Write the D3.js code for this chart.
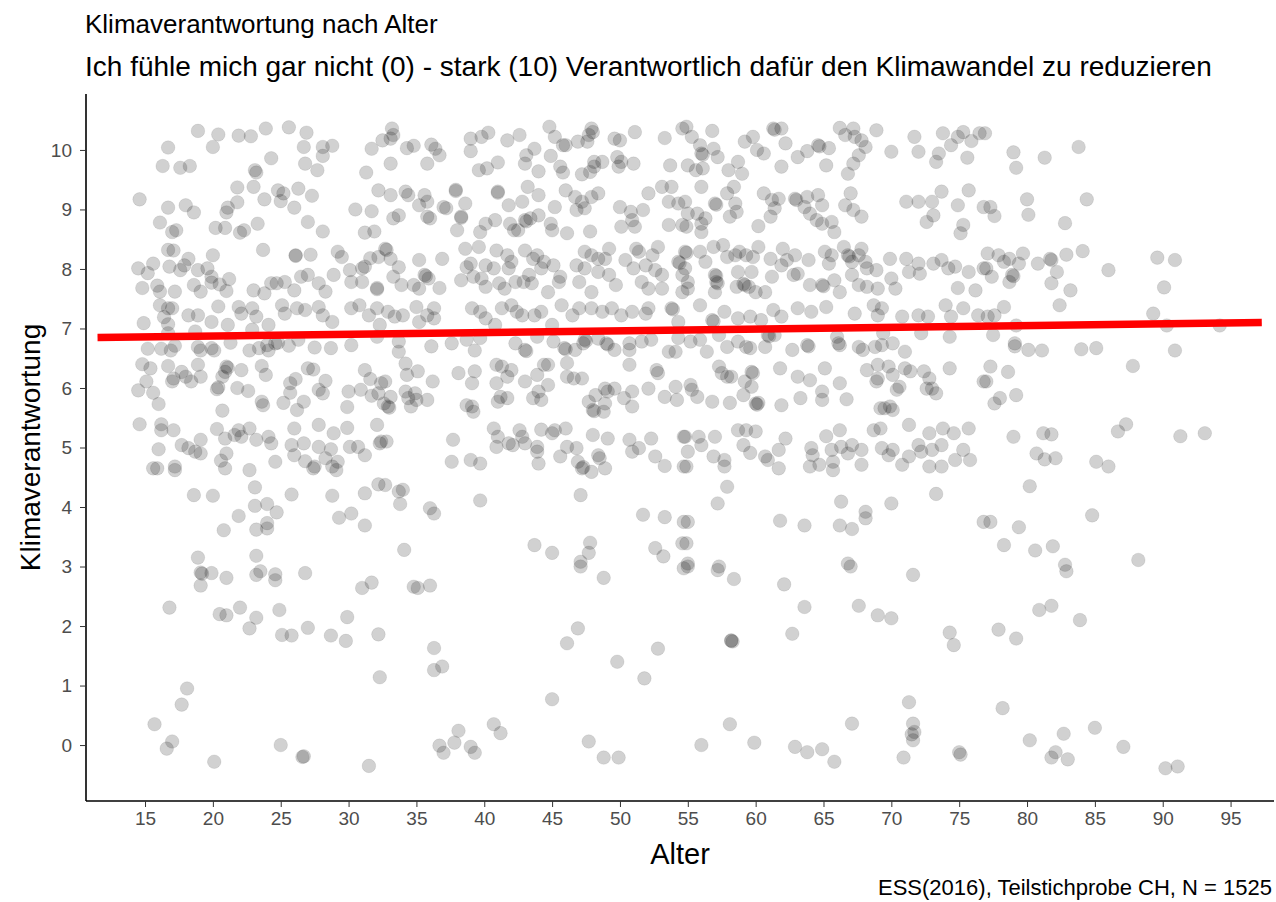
<!DOCTYPE html>
<html>
<head>
<meta charset="utf-8">
<script src="https://cdn.jsdelivr.net/npm/d3@7"></script>
<style>
  body { margin: 0; background: #fff; }
  svg { display: block; font-family: "Liberation Sans", Arial, sans-serif; }
  .tick text { fill: #4d4d4d; font-size: 19px; }
  .tick line { stroke: #333; }
  .domain { stroke: #000; stroke-width: 1.6px; }
</style>
</head>
<body>
<svg id="chart" width="1276" height="902"></svg>
<script>
// ---- data ([Alter, Klimaverantwortung], jittered) ----
var punkte = [
// oben links
[18.9,10.32],[20.4,10.26],[20.0,10.05],[21.9,10.24],[22.8,10.23],[23.9,10.36],[25.6,10.38],[26.9,10.29],[26.7,10.05],[28.1,10.05],
[28.8,10.07],[28.1,9.90],[16.7,10.04],[16.3,9.73],[17.6,9.70],[18.3,9.73],[23.1,9.66],[23.2,9.62],[24.3,9.86],[26.8,9.77],
[27.7,9.66],[31.7,10.02],[31.3,9.62],[32.5,10.16],[14.6,9.17],[16.7,9.03],[18.0,9.07],[18.6,8.95],[21.8,9.37],[23.0,9.38],
[24.8,9.32],[25.2,9.27],[25.0,9.14],[26.3,9.35],[27.3,9.23],[26.0,9.03],[21.8,9.12],[21.1,9.03],[21.0,8.95],[20.9,8.69],
[20.2,8.69],[22.0,8.61],[22.3,8.65],[23.3,8.76],[23.8,9.17],[27.0,8.79],[28.1,8.63],[30.5,9.0],[31.7,8.97],[31.2,8.61],
[31.9,8.63],[32.2,9.32],[16.1,8.78],[17.0,8.62],[17.3,8.65],[23.7,8.32],[26.1,8.23],[26.1,8.22],[27.2,8.24],[16.7,8.32],
[17.1,8.31],[20.0,8.23],[18.2,8.17],[14.5,8.01],[15.2,7.93],[15.6,8.09],[16.8,8.04],[17.6,7.98],[17.9,8.06],[18.9,7.98],
[19.6,8.01],[19.9,7.87],[21.2,7.83],[14.8,7.68],[15.9,7.72],[16.1,7.62],[17.2,7.62],[18.6,7.73],[19.1,7.62],[19.9,7.77],
[20.5,7.74],[21.0,7.63],[23.0,7.64],[23.8,7.59],[24.3,7.76],[24.7,7.76],[25.3,7.78],[26.0,7.64],[26.5,7.87],[27.0,7.9],
[27.8,7.76],[28.3,7.62],[28.9,7.9],[29.2,8.29],[29.5,8.2],[30.1,7.98],[31.0,8.01],[31.2,8.04],[31.6,8.18],[32.2,8.2],
[32.1,7.68],[32.1,7.66],[31.0,7.78],[30.2,7.78],[16.1,7.39],[16.7,7.34],[17.0,7.34],[14.9,7.09],[16.4,7.19],[16.7,7.07],
[18.2,7.22],[18.9,7.22],[19.9,7.11],[20.4,7.37],[21.1,7.06],[21.9,7.36],[22.1,7.25],[22.9,7.34],[23.2,7.2],[24.1,7.06],
[25.1,7.39],[25.3,7.25],[26.2,7.34],[26.8,7.31],[27.8,7.36],[28.1,7.22],[28.8,7.11],[30.2,7.34],[30.8,7.39],[31.5,7.22],
[32.1,7.34],[32.3,7.06],
// oben Mitte links
[33.2,10.36],[33.3,10.25],[33.1,10.19],[34.3,10.03],[34.8,10.07],[36.1,10.09],[36.4,10.02],[36.7,9.91],[35.8,9.77],[33.1,9.77],
[39.0,10.19],[39.0,9.98],[39.8,10.22],[40.3,10.29],[41.7,10.16],[42.6,10.25],[43.7,10.02],[43.1,9.91],[43.0,9.77],[44.8,10.39],
[45.2,10.22],[46.0,10.08],[45.8,10.08],[46.9,10.14],[47.7,10.25],[47.9,10.36],[48.0,10.3],[47.6,10.14],[49.6,10.19],[50.0,10.16],
[51.1,10.3],[53.3,10.2],[54.6,10.36],[44.9,9.9],[45.6,9.72],[45.8,9.62],[48.1,9.8],[48.1,9.72],[47.8,9.63],[48.7,9.8],
[47.2,9.59],[49.8,9.88],[50.1,9.8],[51.0,9.77],[49.9,9.72],[53.7,9.74],[39.6,9.66],[40.2,9.69],[41.0,9.79],[44.0,9.64],
[33.1,9.24],[34.2,9.3],[34.4,9.24],[35.6,9.24],[35.8,9.13],[35.2,9.07],[37.0,9.04],[37.2,9.02],[37.9,9.33],[37.9,9.31],
[38.6,9.1],[38.3,8.88],[38.3,8.86],[38.0,8.65],[35.8,8.88],[36.0,8.85],[33.3,8.85],[33.7,8.9],[41.0,9.3],[41.0,9.28],
[41.8,9.07],[42.8,9.13],[43.2,9.38],[44.0,9.24],[45.2,9.04],[46.0,9.32],[46.7,9.21],[47.2,9.13],[47.9,9.21],[48.4,9.27],
[46.8,8.99],[47.4,9.02],[50.0,9.04],[50.8,8.96],[51.7,8.99],[52.1,9.27],[53.1,9.38],[53.8,9.38],[53.6,9.13],[54.3,9.1],
[50.9,8.82],[51.1,8.71],[50.1,8.71],[53.6,8.74],[54.6,8.74],[40.1,8.76],[40.8,8.82],[39.7,8.62],[41.9,8.76],[42.2,8.65],
[43.0,8.82],[43.1,8.8],[43.4,8.85],[44.0,8.9],[42.5,8.65],[44.9,8.76],[45.0,8.65],[46.1,8.6],[47.8,8.63],[32.7,8.34],
[32.8,8.32],[33.1,8.17],[33.7,8.03],[35.2,8.15],[36.9,8.17],[33.3,7.87],[33.9,7.73],[34.8,7.73],[35.6,7.9],[35.7,7.88],
[35.9,7.84],[36.7,7.68],[35.2,7.67],[38.6,8.34],[39.6,8.37],[39.0,8.09],[38.7,8.03],[38.3,7.81],[39.2,7.87],[39.8,7.84],
[40.1,8.06],[40.9,8.31],[41.7,8.23],[41.8,8.01],[42.0,8.12],[40.7,8.01],[40.1,7.7],[41.1,7.76],[41.5,7.67],[42.3,7.78],
[43.0,8.31],[43.6,8.17],[43.9,8.23],[44.4,8.12],[44.2,8.01],[45.1,8.06],[43.3,7.9],[42.9,7.78],[43.5,7.76],[45.6,7.87],
[45.5,7.78],[44.7,7.61],[46.8,8.06],[47.4,8.29],[47.9,8.23],[48.4,8.17],[48.9,8.17],[49.2,8.34],[47.4,8.01],[48.4,7.95],
[49.2,7.9],[47.9,7.61],[47.0,7.78],[49.7,7.73],[50.4,8.15],[51.2,8.34],[51.4,8.29],[52.8,8.37],[52.4,8.23],[51.0,8.01],
[51.9,8.06],[52.6,7.98],[53.1,7.9],[51.6,7.78],[52.1,7.67],[53.1,7.67],[54.3,8.12],[54.4,8.1],[54.6,7.9],[54.6,7.61],
[32.9,7.28],[33.4,7.2],[34.0,7.22],[35.0,7.36],[35.2,7.11],[35.8,7.22],[36.3,7.34],[36.3,7.17],[39.1,7.34],[39.7,7.28],
[40.1,7.17],[40.8,7.06],[41.3,7.34],[42.0,7.39],[42.4,7.28],[42.8,7.22],[43.7,7.22],[44.2,7.28],[45.0,7.06],[45.7,7.39],
[46.5,7.22],[47.0,7.34],[47.9,7.34],[48.7,7.28],[49.4,7.34],[50.1,7.22],[50.9,7.28],[51.9,7.25],[52.1,7.34],[53.8,7.34],
[53.9,7.32],[54.3,7.11],
// oben Mitte rechts
[54.9,10.39],[55.3,10.22],[55.9,10.08],[56.8,10.32],[56.0,9.94],[56.1,9.92],[56.9,10.02],[57.2,9.88],[55.0,9.74],[55.6,9.66],
[56.1,9.69],[58.0,9.66],[58.7,9.8],[59.0,9.6],[59.2,10.14],[59.8,10.22],[60.1,10.0],[60.6,9.94],[61.3,10.36],[61.4,10.34],
[61.9,10.36],[62.2,10.11],[61.9,9.72],[63.1,9.88],[63.8,9.98],[64.6,10.08],[64.7,10.06],[65.2,9.74],[65.4,10.03],[66.2,10.37],
[66.6,10.25],[67.2,10.36],[67.3,10.22],[67.8,10.16],[68.1,10.05],[67.6,9.91],[67.2,9.77],[66.8,9.6],[68.9,10.33],[70.0,9.97],
[71.7,10.22],[72.0,9.97],[73.5,9.94],[73.3,9.8],[73.8,10.28],[74.4,10.08],[74.9,10.22],[75.3,10.3],[75.9,10.15],[76.5,10.28],
[75.6,9.87],[56.0,9.38],[57.9,9.27],[58.4,9.38],[57.0,9.1],[57.1,9.08],[58.5,9.1],[58.6,8.96],[58.1,8.88],[54.8,9.13],
[55.0,8.93],[55.7,8.93],[56.3,8.85],[56.0,8.76],[54.9,8.71],[56.0,8.62],[60.6,9.27],[61.2,9.16],[61.7,9.18],[61.4,9.02],
[61.1,8.88],[60.2,8.72],[62.9,9.18],[63.0,9.16],[63.8,9.21],[64.6,9.24],[63.6,9.04],[64.0,8.93],[64.9,9.07],[64.5,8.82],
[64.9,8.76],[65.6,8.79],[65.8,8.62],[66.6,9.07],[67.0,9.27],[67.2,8.99],[67.8,8.88],[71.1,9.13],[72.0,9.13],[73.0,9.13],
[73.7,9.3],[73.1,8.9],[72.6,8.79],[74.9,9.07],[75.7,9.32],[76.8,9.04],[75.3,8.74],[75.1,8.6],[54.8,8.29],[54.9,8.27],
[54.8,8.01],[55.0,7.78],[55.0,7.67],[55.9,8.29],[56.3,8.12],[56.9,8.37],[57.0,7.9],[57.1,7.88],[57.1,7.78],[57.2,7.76],
[57.0,7.61],[57.6,8.4],[57.9,8.2],[58.5,8.23],[58.8,8.29],[59.3,8.23],[59.8,8.2],[58.7,7.95],[59.1,7.75],[59.2,7.73],
[59.5,7.7],[59.7,7.95],[58.6,7.7],[60.0,7.61],[60.7,7.61],[60.2,8.37],[61.1,8.17],[61.2,7.87],[62.0,8.34],[62.3,8.15],
[61.9,8.06],[62.9,8.23],[62.8,7.9],[63.1,7.92],[63.9,8.15],[64.0,7.73],[64.9,7.73],[65.0,7.71],[65.1,8.29],[65.6,8.23],
[65.4,8.09],[65.8,7.81],[66.2,7.61],[66.5,8.37],[66.8,8.23],[66.9,8.21],[67.1,8.12],[67.6,8.23],[67.8,8.34],[68.1,8.12],
[67.1,7.9],[67.6,7.73],[68.2,8.01],[68.9,7.98],[68.2,7.7],[69.0,7.67],[69.9,8.17],[70.0,7.84],[70.3,7.67],[71.1,8.17],
[71.3,7.95],[72.0,8.09],[72.1,7.92],[73.1,8.09],[73.7,8.15],[74.2,8.01],[74.7,8.04],[75.7,7.95],[76.8,8.01],[74.9,7.68],
[76.2,7.64],[55.9,7.39],[56.8,7.14],[56.9,7.12],[57.7,7.28],[58.7,7.17],[59.6,7.2],[60.4,7.14],[61.3,7.31],[61.9,7.2],
[63.1,7.34],[64.1,7.28],[65.2,7.36],[67.3,7.25],[68.7,7.39],[69.0,7.22],[69.3,7.34],[70.8,7.2],[72.0,7.22],[72.7,7.2],
[74.0,7.39],[74.4,7.2],[75.3,7.34],[76.4,7.22],
// oben rechts
[76.9,10.28],[79.0,9.96],[79.2,9.7],[81.3,9.87],[83.8,10.05],[77.3,9.04],[77.6,8.89],[80.0,9.17],[80.1,8.91],[82.8,8.77],
[84.4,9.17],[77.1,8.26],[77.9,8.23],[78.3,8.12],[78.7,8.17],[79.4,8.09],[79.7,8.26],[77.0,8.01],[77.4,7.87],[78.9,7.9],
[79.0,7.88],[78.7,7.78],[80.8,8.09],[81.7,8.17],[81.8,8.15],[82.2,7.95],[81.8,7.76],[82.9,8.24],[84.1,8.3],[83.2,7.64],
[82.4,7.39],[86.0,7.98],[89.6,8.19],[90.9,8.15],[90.1,7.69],[89.3,7.25],[78.3,7.36],[77.6,7.22],[77.1,7.2],[79.2,7.05],
[90.3,7.05],[94.2,7.05],
// Mitte links
[15.2,6.66],[16.2,6.66],[16.9,6.63],[17.2,6.71],[18.9,6.69],[19.1,6.63],[19.9,6.67],[20.1,6.63],[21.3,6.76],[22.7,6.63],
[23.4,6.67],[24.0,6.72],[24.1,6.63],[24.6,6.75],[24.8,6.76],[25.6,6.71],[26.3,6.81],[27.5,6.68],[28.7,6.67],[30.2,6.72],
[32.1,6.86],[16.7,6.92],[18.7,6.95],[22.9,6.98],[14.8,6.4],[15.4,6.33],[16.7,6.37],[17.7,6.27],[18.0,6.19],[18.9,6.39],
[19.1,6.19],[18.4,6.11],[21.0,6.36],[21.1,6.34],[20.9,6.27],[22.1,6.3],[23.6,6.37],[23.9,6.22],[20.7,6.19],[15.1,6.11],
[14.5,5.96],[15.6,5.92],[17.0,6.11],[17.1,6.16],[20.4,6.01],[20.3,5.98],[21.8,6.0],[22.6,5.95],[16.0,5.73],[20.7,5.62],
[23.6,5.77],[23.7,5.71],[25.2,5.75],[25.7,6.08],[26.1,6.15],[25.7,5.92],[26.2,5.63],[26.7,5.77],[27.0,6.33],[27.4,6.31],
[28.3,6.12],[27.8,5.97],[28.1,5.91],[29.9,5.68],[30.0,5.94],[30.9,5.97],[31.2,6.3],[31.6,6.15],[31.7,5.87],[32.2,5.91],
[32.6,5.74],[32.4,6.08],[14.6,5.39],[16.2,5.39],[16.2,5.29],[17.1,5.29],[16.0,4.97],[17.7,5.04],[18.2,4.99],[18.7,4.93],
[19.1,4.9],[19.1,5.13],[20.3,5.31],[20.9,5.15],[21.0,4.9],[20.6,4.78],[20.9,4.65],[21.9,5.29],[22.1,5.18],[21.6,5.21],
[22.7,5.32],[23.2,5.13],[24.1,5.18],[24.3,5.07],[24.6,4.76],[22.7,4.62],[15.6,4.65],[15.9,4.65],[17.2,4.68],[17.2,4.62],
[26.0,5.32],[25.8,5.04],[26.0,4.87],[26.7,5.07],[26.8,4.77],[27.4,4.65],[27.5,4.68],[27.8,5.38],[27.8,5.01],[28.3,4.82],
[28.7,4.97],[28.9,5.24],[28.8,4.68],[29.2,4.76],[29.1,4.62],[29.9,5.33],[30.1,5.01],[30.7,5.01],[31.2,4.87],[32.1,5.38],
[32.3,5.07],[32.4,5.1],[23.1,4.33],[18.6,4.2],[20.0,4.19],[25.8,4.21],[28.8,4.19],[31.2,4.23],[32.2,4.38],[23.1,4.02],
[24.0,4.05],[24.7,3.91],[21.9,3.85],[20.8,3.61],[23.2,3.62],[24.0,3.73],[24.0,3.64],[29.3,3.82],[30.2,3.89],[31.2,3.69],
[18.9,3.15],[23.2,3.18],
// Mitte, 33 bis 55
[33.7,6.78],[33.7,6.61],[36.1,6.7],[37.6,6.75],[38.7,6.81],[39.3,6.63],[39.7,6.84],[42.3,6.75],[43.0,6.64],[43.1,6.62],
[43.9,6.86],[45.1,6.78],[45.9,6.67],[46.0,6.65],[46.7,6.64],[47.3,6.75],[47.4,6.81],[47.5,6.79],[48.4,6.83],[49.0,6.75],
[49.1,6.73],[49.6,6.64],[50.7,6.75],[50.7,6.64],[51.6,6.78],[52.3,6.81],[53.6,6.61],[54.1,6.61],[54.3,6.84],[34.2,6.41],
[34.3,6.22],[35.1,6.28],[36.2,6.11],[32.7,6.11],[33.1,5.85],[32.9,5.69],[33.0,5.67],[34.2,5.94],[34.4,5.83],[34.9,5.91],
[35.0,5.8],[35.8,5.8],[34.6,5.69],[38.1,6.25],[39.3,6.28],[39.1,6.08],[38.7,5.71],[39.1,5.69],[39.2,5.6],[40.9,6.39],
[41.3,6.36],[42.0,6.3],[41.7,6.19],[40.9,6.08],[41.2,5.85],[41.7,5.83],[41.0,5.77],[43.0,6.11],[43.9,6.22],[44.4,6.39],
[44.7,6.39],[44.7,6.05],[44.0,5.94],[43.6,5.83],[44.2,5.8],[46.1,6.42],[46.1,6.19],[46.6,6.16],[47.2,6.16],[47.7,5.77],
[48.0,5.63],[48.1,5.61],[48.2,5.88],[48.9,5.99],[49.1,5.94],[49.6,5.99],[48.8,5.6],[48.9,5.74],[50.3,5.83],[50.9,5.94],
[50.9,5.69],[50.7,6.39],[52.7,6.3],[52.8,6.25],[52.1,5.99],[53.3,5.85],[54.1,6.02],[54.2,5.8],[32.8,5.1],[37.7,5.13],
[37.6,4.76],[39.0,4.79],[39.7,4.73],[40.7,5.32],[41.0,5.18],[40.9,5.01],[41.8,5.07],[42.1,5.04],[42.6,5.29],[42.8,5.18],
[43.0,5.07],[43.9,5.01],[43.9,4.93],[44.0,4.73],[44.2,5.3],[45.0,5.24],[45.2,5.29],[46.0,5.32],[45.6,4.85],[46.1,5.01],
[46.8,4.99],[46.9,4.76],[47.2,4.65],[47.3,4.67],[47.9,4.59],[48.0,5.21],[48.4,4.87],[48.5,4.82],[48.9,4.65],[49.1,5.15],
[50.7,5.13],[50.9,4.93],[51.4,4.99],[52.3,5.15],[52.6,4.85],[53.3,4.69],[54.7,5.18],[54.7,4.68],[32.7,4.37],[33.7,4.26],
[34.0,4.29],[33.8,4.05],[36.0,3.98],[36.3,3.89],[39.7,4.11],[47.1,4.2],[51.7,3.87],[53.3,3.83],[54.7,3.75],[34.1,3.28],
[43.7,3.36],[45.0,3.23],[47.8,3.4],[47.7,3.23],[47.1,3.08],[52.6,3.31],[53.2,3.17],[54.6,3.39],
// Mitte, 55 bis 77
[55.2,6.78],[55.9,6.81],[56.4,6.61],[57.3,6.89],[57.9,6.69],[58.7,6.78],[59.3,6.69],[59.6,6.67],[60.7,6.69],[60.9,6.89],
[61.0,6.87],[61.4,6.89],[62.7,6.64],[63.8,6.72],[63.9,6.7],[66.0,6.86],[66.1,6.75],[66.2,6.72],[67.6,6.69],[67.9,6.64],
[68.8,6.69],[69.3,6.72],[69.4,6.92],[70.1,6.75],[71.0,6.61],[72.2,6.92],[74.3,6.86],[57.3,6.36],[57.5,6.25],[57.9,6.19],
[58.2,6.19],[59.7,6.27],[59.8,6.25],[59.2,6.11],[59.7,6.02],[55.2,6.05],[55.3,5.97],[55.7,5.85],[56.8,5.77],[58.1,5.75],
[59.1,5.88],[60.0,5.74],[60.1,5.72],[60.2,5.75],[61.8,6.33],[61.9,5.71],[63.1,6.19],[64.0,6.13],[63.3,5.83],[64.9,5.94],
[64.9,5.8],[65.1,6.33],[66.2,6.08],[66.7,5.81],[68.2,6.3],[69.0,6.39],[69.8,6.36],[68.9,6.11],[69.0,6.16],[70.1,6.22],
[71.0,6.33],[71.4,6.28],[70.4,5.97],[70.6,6.02],[72.4,6.28],[72.8,6.16],[72.6,5.99],[73.0,5.99],[73.3,5.91],[74.3,6.33],
[76.8,6.11],[69.2,5.66],[69.5,5.66],[69.9,5.69],[70.1,5.63],[54.8,5.18],[55.8,5.18],[56.0,5.04],[57.0,5.18],[58.7,5.29],
[59.3,5.29],[60.0,5.27],[59.1,5.04],[59.6,4.91],[55.0,4.93],[54.9,4.68],[56.9,4.85],[57.7,4.79],[57.7,4.68],[60.7,4.85],
[60.9,4.79],[61.7,4.96],[61.7,4.65],[62.2,5.15],[64.1,4.99],[64.2,4.87],[64.0,4.68],[64.7,4.71],[65.2,5.19],[66.2,5.29],
[65.6,4.96],[65.7,4.76],[65.7,4.62],[66.3,5.01],[66.8,4.9],[67.1,5.04],[67.8,4.96],[67.8,4.71],[68.7,5.29],[69.2,5.32],
[69.3,4.99],[69.8,4.87],[70.1,4.96],[70.8,4.71],[71.3,5.38],[71.3,4.85],[72.0,5.04],[72.2,4.93],[72.8,5.24],[73.0,4.96],
[72.8,4.68],[73.7,4.68],[73.8,5.32],[73.7,5.04],[74.6,5.24],[74.7,4.79],[75.3,4.96],[75.7,5.32],[75.8,4.79],[57.9,4.34],
[57.2,4.06],[66.3,4.09],[68.1,3.92],[68.1,3.81],[70.0,4.06],[73.3,4.22],[55.0,3.75],[61.8,3.77],[63.6,3.69],[66.2,3.69],
[67.1,3.63],[76.8,3.75],[54.9,3.39],[55.0,3.05],[57.3,3.0],[66.8,3.05],
// Mitte rechts
[77.5,6.89],[79.1,6.75],[79.1,6.7],[80.1,6.64],[81.1,6.63],[84.0,6.65],[85.1,6.67],[90.9,6.63],[77.3,6.36],[78.6,6.27],
[77.0,6.11],[78.0,5.83],[77.6,5.74],[79.2,5.88],[87.8,6.37],[79.0,5.18],[81.2,5.24],[81.8,5.22],[80.7,4.9],[81.3,4.8],
[82.1,4.82],[86.7,5.27],[87.3,5.39],[85.1,4.76],[86.0,4.68],[91.3,5.19],[93.1,5.24],[80.2,4.35],[77.3,3.75],[79.4,3.66],
[84.8,3.86],[78.3,3.36],[80.6,3.27],[81.9,3.34],[88.2,3.11],[82.8,3.03],
// unten
[19.1,2.9],[19.2,2.88],[19.9,2.89],[19.1,2.68],[21.0,2.81],[23.2,2.86],[23.5,2.92],[24.6,2.87],[24.6,2.77],[26.8,2.89],
[31.0,2.64],[31.7,2.73],[16.8,2.31],[20.5,2.2],[21.0,2.18],[22.0,2.31],[23.2,2.14],[22.7,1.96],[24.9,2.27],[25.1,1.85],
[25.8,1.84],[27.0,1.97],[28.7,1.84],[29.8,1.75],[29.9,2.15],[32.2,1.86],[32.3,1.14],[18.1,0.95],[17.7,0.68],[15.7,0.35],
[17.0,0.06],[16.6,-0.06],[20.1,-0.28],[25.0,0.0],[26.6,-0.2],[26.7,-0.19],[31.5,-0.35],
[34.8,2.66],[35.1,2.64],[36.0,2.68],[47.1,3.0],[48.8,2.81],[36.3,1.63],[36.3,1.26],[36.9,1.32],[46.9,1.96],[46.1,1.71],
[49.8,1.4],[52.8,1.62],[51.8,1.12],[45.0,0.77],[38.1,0.24],[37.8,0.04],[36.7,-0.01],[37.0,-0.13],[39.0,-0.03],[39.3,-0.13],
[40.7,0.35],[41.2,0.2],[47.7,0.06],[48.8,-0.21],[49.9,-0.21],[54.7,2.97],
[55.0,3.0],[57.2,2.94],[58.4,2.79],[62.1,2.7],[63.6,2.32],[67.6,2.34],[69.0,2.18],[70.0,2.13],[71.6,2.86],[67.0,3.0],
[58.2,1.75],[58.3,1.74],[58.2,1.76],[62.7,1.87],[74.3,1.89],[74.6,1.68],[71.3,0.72],[71.6,0.36],[71.5,0.18],[71.7,0.22],
[71.6,0.08],[70.9,-0.21],[75.0,-0.12],[75.1,-0.16],[58.1,0.35],[56.0,0.0],[59.9,0.04],[62.9,-0.03],[63.8,-0.12],[64.9,-0.07],
[65.8,-0.28],[67.1,0.36],
[82.9,2.92],[80.9,2.27],[81.8,2.34],[83.9,2.1],[77.9,1.94],[79.2,1.79],[78.2,0.62],[80.2,0.08],[82.7,0.19],[85.0,0.29],
[82.1,-0.12],[81.8,-0.21],[83.0,-0.24],[87.1,-0.03],[90.2,-0.39],[91.1,-0.36]
];

// Regressionsgerade (Endpunkte aus dem Bild)
var fitAlter = [11.5, 97.3];
var fitWert = [6.85, 7.10];

var xTicks = [15, 20, 25, 30, 35, 40, 45, 50, 55, 60, 65, 70, 75, 80, 85, 90, 95];
var yTicks = [0, 1, 2, 3, 4, 5, 6, 7, 8, 9, 10];

var titel = "Klimaverantwortung nach Alter";
var untertitel = "Ich fühle mich gar nicht (0) - stark (10) Verantwortlich dafür den Klimawandel zu reduzieren";
var caption = "ESS(2016), Teilstichprobe CH, N = 1525";

// ---- layout ----
var W = 1276, H = 902;
var panel = { left: 86, right: 1274, top: 94, bottom: 801 };

var svg = d3.select("#chart");

var x = d3.scaleLinear().domain([10.65, 98.2]).range([panel.left, panel.right]);
var y = d3.scaleLinear().domain([-0.94, 10.94]).range([panel.bottom, panel.top]);

// points
svg.append("g")
  .selectAll("circle")
  .data(punkte)
  .enter()
  .append("circle")
  .attr("cx", function(d) { return x(d[0]); })
  .attr("cy", function(d) { return y(d[1]); })
  .attr("r", 6.8)
  .attr("fill", "#000")
  .attr("fill-opacity", 0.18)
  .attr("stroke", "#000")
  .attr("stroke-opacity", 0.08)
  .attr("stroke-width", 1);

// fitted line
var fit = fitAlter.map(function(a, i) { return [a, fitWert[i]]; });
svg.append("path")
  .datum(fit)
  .attr("d", d3.line().x(function(d) { return x(d[0]); }).y(function(d) { return y(d[1]); }))
  .attr("stroke", "#ff0000")
  .attr("stroke-width", 7.5)
  .attr("fill", "none");

// axes
var xAxis = d3.axisBottom(x).tickValues(xTicks).tickSize(6).tickSizeOuter(0).tickPadding(5);
var yAxis = d3.axisLeft(y).tickValues(yTicks).tickSize(6).tickSizeOuter(0).tickPadding(8);

svg.append("g")
  .attr("transform", "translate(0," + panel.bottom + ")")
  .call(xAxis)
  .call(function(g) { g.select(".domain").attr("d", "M" + panel.left + ",0H" + panel.right); });

svg.append("g")
  .attr("transform", "translate(" + panel.left + ",0)")
  .call(yAxis)
  .call(function(g) { g.select(".domain").attr("d", "M0," + panel.top + "V" + panel.bottom); });

// texts
svg.append("text")
  .attr("x", 85).attr("y", 33)
  .attr("font-size", 26)
  .text(titel);

svg.append("text")
  .attr("x", 85).attr("y", 76)
  .attr("font-size", 28)
  .text(untertitel);

svg.append("text")
  .attr("x", (panel.left + panel.right) / 2).attr("y", 864)
  .attr("text-anchor", "middle")
  .attr("font-size", 29)
  .text("Alter");

svg.append("text")
  .attr("transform", "translate(40," + ((panel.top + panel.bottom) / 2) + ") rotate(-90)")
  .attr("text-anchor", "middle")
  .attr("font-size", 28)
  .text("Klimaverantwortung");

svg.append("text")
  .attr("x", 1272).attr("y", 895)
  .attr("text-anchor", "end")
  .attr("font-size", 22)
  .text(caption);
</script>
</body>
</html>
